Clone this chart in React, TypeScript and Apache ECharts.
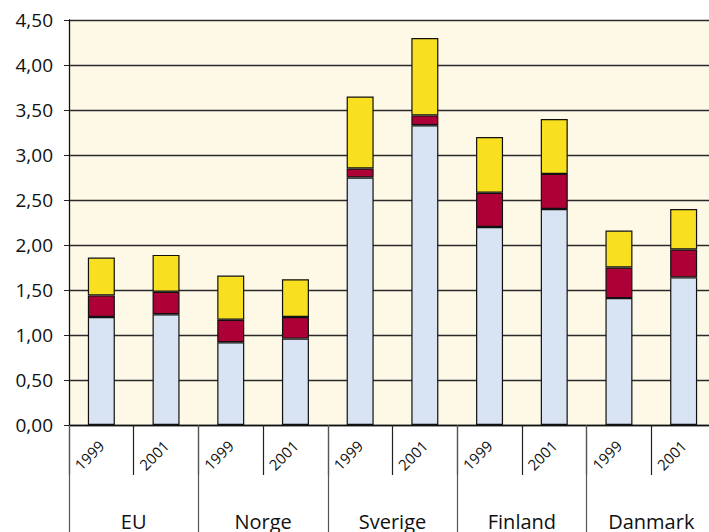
import React, { useEffect, useRef } from "react";
import * as echarts from "echarts";

const years = ["1999", "2001", "1999", "2001", "1999", "2001", "1999", "2001", "1999", "2001"];
const countries = ["EU", "Norge", "Sverige", "Finland", "Danmark"];
const baseValues = [1.2, 1.23, 0.92, 0.96, 2.75, 3.33, 2.2, 2.4, 1.41, 1.64];
const midValues = [0.24, 0.25, 0.25, 0.24, 0.1, 0.11, 0.38, 0.39, 0.34, 0.31];
const topValues = [0.42, 0.41, 0.49, 0.42, 0.8, 0.86, 0.62, 0.61, 0.41, 0.45];
const yTicks = { min: 0, max: 4.5, interval: 0.5 };

const FONT = "'Open Sans', 'Noto Sans', sans-serif";

export default function App() {
  const ref = useRef<HTMLDivElement>(null);
  useEffect(() => {
    const chart = echarts.init(ref.current!, null, { renderer: "svg" });
    const barStyle = (color: string) => ({
      color,
      borderColor: "#111",
      borderWidth: 1.2,
    });
    chart.setOption({
      animation: false,
      textStyle: { fontFamily: FONT },
      grid: {
        left: 69,
        top: 20,
        right: 0,
        bottom: 107,
        show: true,
        backgroundColor: "#fef8e7",
        borderWidth: 0,
      },
      xAxis: [
        {
          type: "category",
          data: years,
          position: "bottom",
          axisLine: { show: true, lineStyle: { color: "#111", width: 1.3 } },
          axisTick: { show: true, length: 50, interval: 0, lineStyle: { color: "#222", width: 1.2 } },
          axisLabel: {
            interval: 0,
            rotate: 45,
            margin: 18,
            fontSize: 15,
            color: "#111",
            fontFamily: FONT,
          },
        },
        {
          type: "category",
          data: countries,
          position: "bottom",
          axisLine: { show: false },
          axisTick: { show: true, length: 120, interval: 0, lineStyle: { color: "#555", width: 1.2 } },
          axisLabel: {
            interval: 0,
            margin: 86,
            fontSize: 20,
            color: "#111",
            fontFamily: FONT,
          },
        },
      ],
      yAxis: {
        type: "value",
        min: yTicks.min,
        max: yTicks.max,
        interval: yTicks.interval,
        axisLine: { show: true, lineStyle: { color: "#111", width: 1.3 } },
        axisTick: { show: true, length: 5, lineStyle: { color: "#222" } },
        splitLine: { show: true, lineStyle: { color: "#2a2a2a", width: 1.3 } },
        axisLabel: {
          margin: 16,
          fontSize: 19,
          color: "#111",
          fontFamily: FONT,
          formatter: (v: number) => v.toFixed(2).replace(".", ","),
        },
      },
      series: [
        { type: "bar", stack: "s", data: baseValues, barWidth: 27, itemStyle: barStyle("#d8e3f3") },
        { type: "bar", stack: "s", data: midValues, barWidth: 27, itemStyle: barStyle("#ad0036") },
        { type: "bar", stack: "s", data: topValues, barWidth: 27, itemStyle: barStyle("#f8e020") },
      ],
    });
    return () => chart.dispose();
  }, []);
  return (
    <div
      ref={ref}
      style={{ position: "fixed", left: 0, top: 0, width: 716, height: 532, background: "#fff" }}
    />
  );
}
